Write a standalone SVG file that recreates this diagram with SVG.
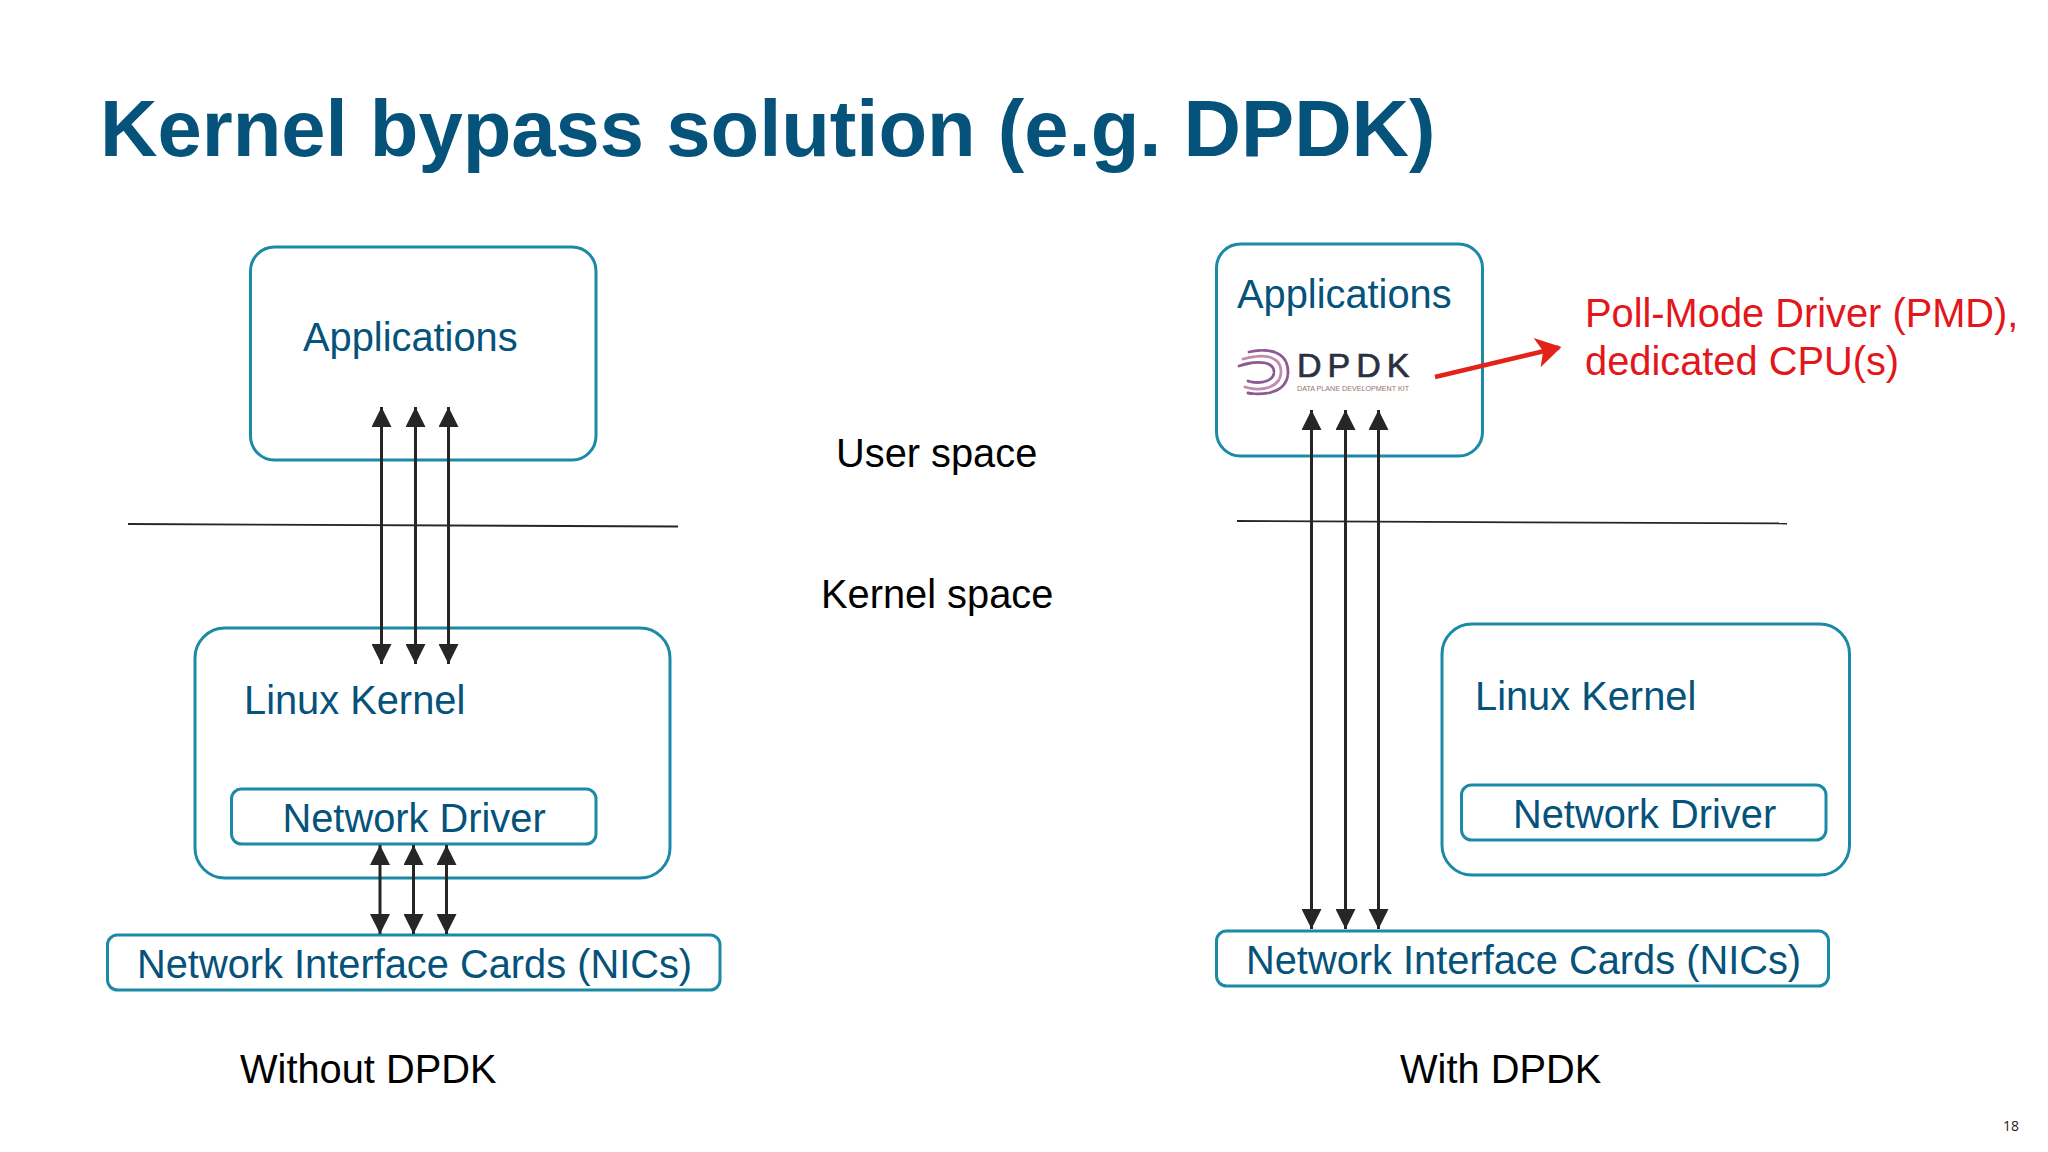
<svg xmlns="http://www.w3.org/2000/svg" width="2048" height="1152" viewBox="0 0 2048 1152">
<style>
text{font-family:"Liberation Sans",Arial,sans-serif}
.box{fill:none;stroke:#1b8aa6;stroke-width:3}
.t{font-size:39.800px;fill:#05527a}
.k{font-size:39.800px;fill:#000}
.r{font-size:39.800px;fill:#e3161b}
.c{fill:none;stroke:#262626;stroke-width:3}
.s{fill:none;stroke:#262626;stroke-width:1.800}
</style>
<defs>
<marker id="a" viewBox="0 0 20 20" refX="20" refY="10" markerUnits="userSpaceOnUse" markerWidth="20" markerHeight="20" orient="auto-start-reverse"><path d="M0 0L20 10L0 20Z" fill="#262626"/></marker>
<marker id="b" viewBox="0 0 20 24" refX="18" refY="12" markerUnits="userSpaceOnUse" markerWidth="28" markerHeight="30" orient="auto"><path d="M0 0L20 12L0 24L5 12Z" fill="#e2231a"/></marker>
</defs>
<rect width="2048" height="1152" fill="#fff"/>
<text x="100" y="156" font-size="79.600" font-weight="700" fill="#05527a">Kernel bypass solution (e.g. DPDK)</text>
<g id="left-apps"><rect class="box" x="250.500" y="247" width="345.500" height="213" rx="24"/><text class="t" x="303" y="350.500">Applications</text></g>
<g id="left-kernel"><rect class="box" x="195" y="628" width="475" height="250" rx="30"/><text class="t" x="244" y="713.500">Linux Kernel</text></g>
<g id="left-driver"><rect class="box" x="231.500" y="789" width="364.500" height="55" rx="10"/><text class="t" x="282.500" y="831.500">Network Driver</text></g>
<g id="left-nics"><rect class="box" x="107.500" y="935" width="612.500" height="55" rx="10"/><text class="t" x="137" y="977.500">Network Interface Cards (NICs)</text></g>
<g id="right-apps"><rect class="box" x="1216.500" y="244" width="266" height="212" rx="24"/><text class="t" x="1237" y="307.500">Applications</text>
<g id="dpdk-logo" fill="none" stroke-width="2.800" stroke-linecap="round" stroke-dasharray="12 2">
<path stroke="#8d5a93" d="M1249 352C1266 348 1288 350 1288 372C1288 392 1266 396 1248 393"/>
<path stroke="#c48ab0" d="M1243 359C1260 354 1281 354 1281 372C1281 388 1260 392 1245 387"/>
<path stroke="#8d5a93" d="M1239 366C1256 360 1274 361 1274 372C1274 383 1256 384 1248 381"/>
</g>
<text x="1297" y="377" font-size="34" letter-spacing="6" stroke="#2a3040" stroke-width=".7" fill="#2a3040">DPDK</text>
<text x="1297" y="391" font-size="8" fill="#9b6f6f" textLength="112" lengthAdjust="spacingAndGlyphs">DATA PLANE DEVELOPMENT KIT</text>
</g>
<g id="right-kernel"><rect class="box" x="1442" y="624" width="407.500" height="251" rx="30"/><text class="t" x="1475" y="709.500">Linux Kernel</text></g>
<g id="right-driver"><rect class="box" x="1461.500" y="785" width="364.500" height="55" rx="10"/><text class="t" x="1513" y="827.500">Network Driver</text></g>
<g id="right-nics"><rect class="box" x="1216.500" y="931" width="612" height="55" rx="10"/><text class="t" x="1246" y="973.500">Network Interface Cards (NICs)</text></g>
<g id="connectors">
<path class="s" d="M128 524L678 526.500"/>
<path class="s" d="M1237 521L1787 523.500"/>
<path class="c" d="M381.500 407V664" marker-start="url(#a)" marker-end="url(#a)"/>
<path class="c" d="M415.500 407V664" marker-start="url(#a)" marker-end="url(#a)"/>
<path class="c" d="M448.500 407V664" marker-start="url(#a)" marker-end="url(#a)"/>
<path class="c" d="M380 845V934" marker-start="url(#a)" marker-end="url(#a)"/>
<path class="c" d="M413.500 845V934" marker-start="url(#a)" marker-end="url(#a)"/>
<path class="c" d="M446.500 845V934" marker-start="url(#a)" marker-end="url(#a)"/>
<path class="c" d="M1311.500 410V929" marker-start="url(#a)" marker-end="url(#a)"/>
<path class="c" d="M1345.500 410V929" marker-start="url(#a)" marker-end="url(#a)"/>
<path class="c" d="M1378.500 410V929" marker-start="url(#a)" marker-end="url(#a)"/>
<path d="M1435 377L1559 347.500" fill="none" stroke="#e2231a" stroke-width="4.500" marker-end="url(#b)"/>
</g>
<g id="labels">
<text class="k" x="836" y="467">User space</text>
<text class="k" x="821" y="608">Kernel space</text>
<text class="k" x="240" y="1083">Without DPDK</text>
<text class="k" x="1400" y="1083">With DPDK</text>
<text class="r" x="1585" y="327">Poll-Mode Driver (PMD),</text>
<text class="r" x="1585" y="375">dedicated CPU(s)</text>
<text x="2003" y="1131" font-size="14" fill="#222" style="font-family:'Open Sans','Liberation Sans',sans-serif">18</text>
</g>
</svg>
